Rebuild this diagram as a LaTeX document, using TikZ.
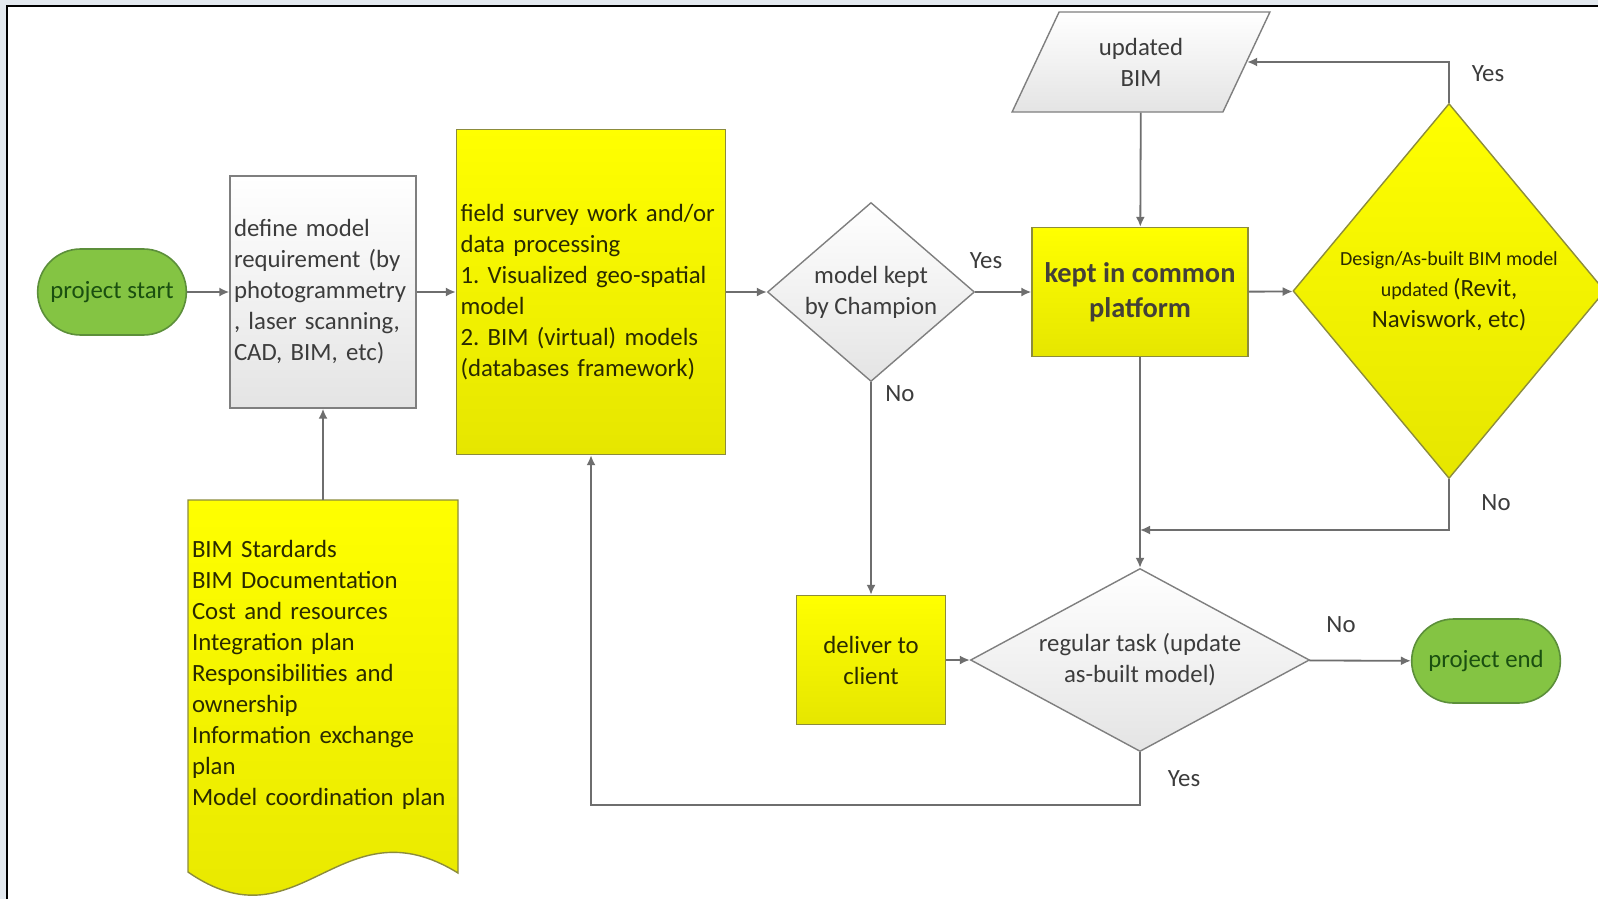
\documentclass[tikz,border=0pt]{standalone}
\usepackage{fontspec}
\setmainfont{Carlito}
\frenchspacing
\usetikzlibrary{arrows.meta,shapes.geometric,shapes.misc}

\definecolor{framebg}{HTML}{E3E9EF}
\definecolor{lineg}{HTML}{6E6E6E}
\definecolor{grayedge}{HTML}{7F7F7F}
\definecolor{graylow}{HTML}{E4E4E4}
\definecolor{yeltop}{HTML}{FFFF00}
\definecolor{yellow2}{HTML}{E6E600}
\definecolor{yeledge}{HTML}{8C8C3C}
\definecolor{greenfill}{HTML}{84C443}
\definecolor{greenedge}{HTML}{5C8F3A}
\definecolor{greentext}{HTML}{1A4F10}
\definecolor{graytext}{HTML}{3C3C3C}
\definecolor{yeltext}{HTML}{2A2A00}

\begin{document}
\begin{tikzpicture}[x=0.5pt,y=-0.5pt,
  every node/.style={font=\fontsize{12.4}{15.5}\selectfont},
  flow/.style={draw=lineg, line width=0.9pt, -{Latex[length=5pt,width=4.5pt]}},
  grayshape/.style={draw=grayedge, line width=0.7pt, top color=white, bottom color=graylow, text=graytext},
  yelshape/.style={draw=yeledge, line width=0.7pt, top color=yeltop, bottom color=yellow2, text=yeltext},
  terminal/.style={rounded rectangle, draw=greenedge, line width=0.8pt, fill=greenfill, text=greentext},
  answer/.style={text=graytext}]
  \def\Ym{292}; % main row
  \def\Yl{660}; % lower row

  % frame
  \useasboundingbox (0,0) rectangle (1598,899);
  \fill[framebg] (0,0) rectangle (1598,899);
  \fill[white] (7,6) rectangle (1598,899);
  \draw[black, line width=1.1pt] (7,899) -- (7,6) -- (1598,6);

  % left part
  \node[terminal, minimum width=81pt, minimum height=43pt] (start) at (112,\Ym) {project start};
  \node[grayshape, rectangle, minimum height=116pt, text width=89pt, inner xsep=2pt, align=left]
    (define) at (323,\Ym) {define model\\requirement (by\\photogrammetry\\, laser scanning,\\CAD, BIM, etc)};
  \node[yelshape, rectangle, minimum height=162.5pt, text width=130.5pt, inner xsep=2pt, align=left]
    (field) at (591,\Ym) {field survey work and/or\\data processing\\1. Visualized geo-spatial\\model\\2. BIM (virtual) models\\(databases framework)};

  % document
  \draw[yelshape] (188,500) -- (458,500) -- (458,873)
    .. controls (340,800) and (300,950) .. (188,872) -- cycle;
  \node[rectangle, minimum height=175pt, text width=131pt, inner xsep=2pt, align=left, text=yeltext]
    (doc) at (323,675) {BIM Stardards\\BIM Documentation\\Cost and resources\\Integration plan\\Responsibilities and\\ownership\\Information exchange\\plan\\Model coordination plan};

  % decisions and platform
  \node[grayshape, diamond, inner sep=0pt, aspect=1.16, minimum width=103.5pt, minimum height=89.5pt, align=center]
    (model) at (871,\Ym) {model kept\\by Champion};
  \node[yelshape, rectangle, minimum width=108pt, minimum height=64.5pt, align=center,
    font=\fontsize{14.2}{17.3}\selectfont\bfseries, text=black!85!yellow]
    (kept) at (1140,\Ym) {kept in common\\platform};
  \node[grayshape, trapezium, trapezium left angle=63.4, trapezium right angle=116.6, trapezium stretches=true,
    minimum width=129pt, minimum height=50pt, inner sep=0pt, align=center]
    (bim) at (1141,62) {updated\\BIM};
  \node[yelshape, diamond, inner sep=0pt, aspect=0.83, minimum width=156pt, minimum height=187.5pt, align=center]
    (design) at (1449,291) {{\fontsize{10}{13.5}\selectfont Design/As-built BIM model}\\{\fontsize{10}{15}\selectfont updated }(Revit,\\Naviswork, etc)};

  % lower row
  \node[yelshape, rectangle, minimum width=74.5pt, minimum height=64.5pt, align=center]
    (deliver) at (871,\Yl) {deliver to\\client};
  \node[grayshape, diamond, inner sep=0pt, aspect=1.85, minimum width=169.5pt, minimum height=91.5pt, align=center]
    (regular) at (1140,\Yl) {regular task (update\\as-built model)};
  \node[terminal, minimum width=81pt, minimum height=42pt] (finish) at (1486,661) {project end};
  \coordinate (merge) at (1140,530);

  % connectors
  \draw[flow] (start) -- (define);
  \draw[flow] (define) -- (field);
  \draw[flow] (doc.north) -- (define.south);
  \draw[flow] (field) -- (model);
  \draw[flow] (model) -- (kept);
  \draw[flow] (bim) -- (kept);
  \draw[flow] (kept) -- (design);
  \draw[flow] (design.north) |- (bim.east);
  \draw[flow] (design.south) |- (merge);
  \draw[flow] (kept) -- (regular);
  \draw[flow] (model.south) -- (deliver.north);
  \draw[flow] (deliver) -- (regular);
  \draw[flow] (regular) -- (finish);
  \draw[flow] (regular.south) -- ++(0,53) -| (field.south);

  % answers
  \node[answer] (y1) at (986,261) {Yes};
  \node[answer] (y2) at (1488,74) {Yes};
  \node[answer] (n1) at (1496,503) {No};
  \node[answer] (n2) at (900,394) {No};
  \node[answer] (n3) at (1341,625) {No};
  \node[answer] (y3) at (1184,779) {Yes};
\end{tikzpicture}
\end{document}
